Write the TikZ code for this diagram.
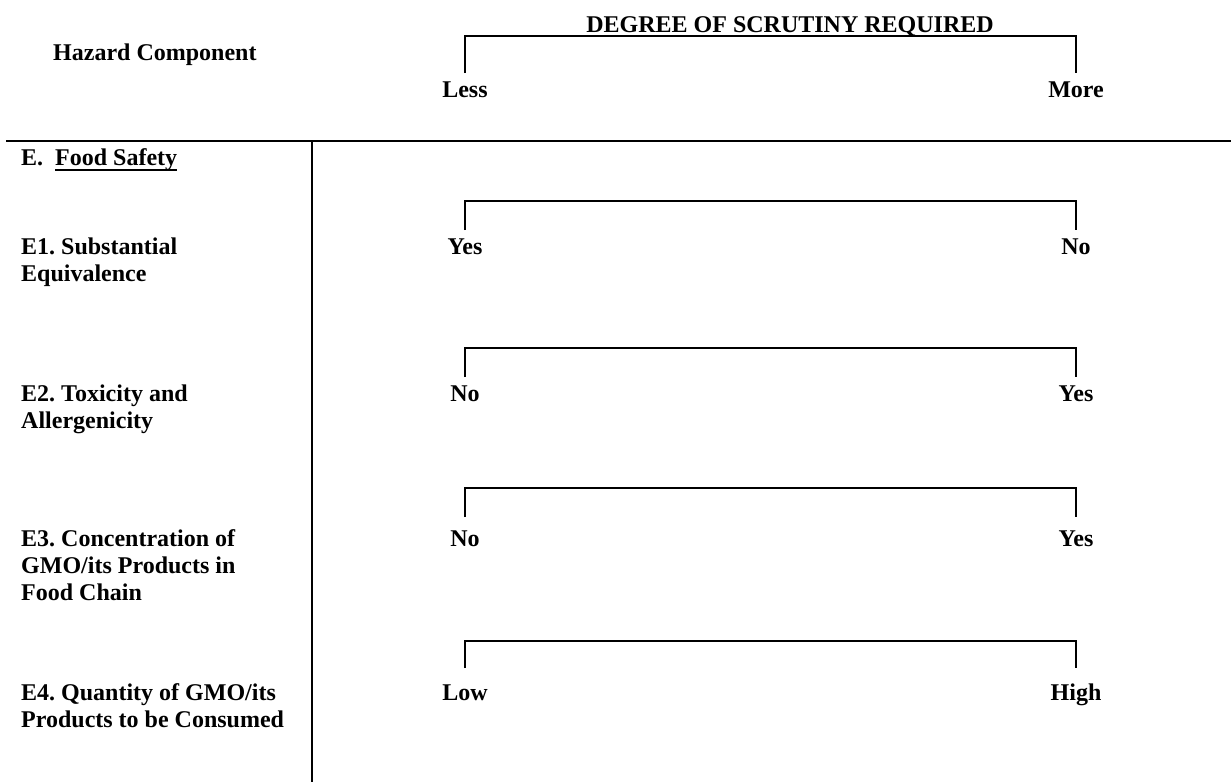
\documentclass[tikz,border=0pt]{standalone}
\usepackage{fontspec}
\setmainfont{Liberation Serif}
\frenchspacing
\begin{document}
\begin{tikzpicture}[x=1pt,y=-1pt,
  lbl/.style={font=\fontsize{24}{27}\selectfont\bfseries\frenchspacing, inner sep=0pt, anchor=base},
  lefttxt/.style={lbl, anchor=base west, align=left},
  rulel/.style={line width=2pt},
  brk/.style={line width=1.5pt}]
\useasboundingbox (0,0) rectangle (1231,782);

% header
\node[lefttxt] (hc) at (53,60) {Hazard Component};
\node[lbl] (dg) at (790,32) {DEGREE OF SCRUTINY REQUIRED};
\coordinate (h1) at (465,73); \coordinate (h2) at (465,36);
\coordinate (h3) at (1076,36); \coordinate (h4) at (1076,73);
\draw[brk] (h1) -- (h2) -- (h3) -- (h4);
\node[lbl] (less) at (465,97) {Less};
\node[lbl] (more) at (1076,97) {More};

% table rules
\coordinate (r1) at (6,141); \coordinate (r2) at (1231,141);
\coordinate (v1) at (312,141); \coordinate (v2) at (312,782);
\draw[rulel] (r1) -- (r2);
\draw[rulel] (v1) -- (v2);

% E
\node[lefttxt] (e) at (21,165) {E.};
\node[lefttxt] (fs) at (55,165) {Food Safety};
\draw[line width=1.5pt] ([yshift=-5pt]fs.base west) -- ([yshift=-5pt]fs.base east);

% E1 (base anchor = last line)
\node[lefttxt] (e1) at (21,281) {E1. Substantial\\Equivalence};
\coordinate (a1) at (465,230); \coordinate (a2) at (465,201);
\coordinate (a3) at (1076,201); \coordinate (a4) at (1076,230);
\draw[brk] (a1) -- (a2) -- (a3) -- (a4);
\node[lbl] (e1l) at (465,254) {Yes};
\node[lbl] (e1r) at (1076,254) {No};

% E2
\node[lefttxt] (e2) at (21,428) {E2. Toxicity and\\Allergenicity};
\coordinate (b1) at (465,377); \coordinate (b2) at (465,348);
\coordinate (b3) at (1076,348); \coordinate (b4) at (1076,377);
\draw[brk] (b1) -- (b2) -- (b3) -- (b4);
\node[lbl] (e2l) at (465,401) {No};
\node[lbl] (e2r) at (1076,401) {Yes};

% E3
\node[lefttxt] (e3) at (21,600) {E3. Concentration of\\GMO/its Products in\\Food Chain};
\coordinate (c1) at (465,517); \coordinate (c2) at (465,488);
\coordinate (c3) at (1076,488); \coordinate (c4) at (1076,517);
\draw[brk] (c1) -- (c2) -- (c3) -- (c4);
\node[lbl] (e3l) at (465,546) {No};
\node[lbl] (e3r) at (1076,546) {Yes};

% E4
\node[lefttxt] (e4) at (21,727) {E4. Quantity of GMO/its\\Products to be Consumed};
\coordinate (d1) at (465,668); \coordinate (d2) at (465,641);
\coordinate (d3) at (1076,641); \coordinate (d4) at (1076,668);
\draw[brk] (d1) -- (d2) -- (d3) -- (d4);
\node[lbl] (e4l) at (465,700) {Low};
\node[lbl] (e4r) at (1076,700) {High};
\end{tikzpicture}
\end{document}
